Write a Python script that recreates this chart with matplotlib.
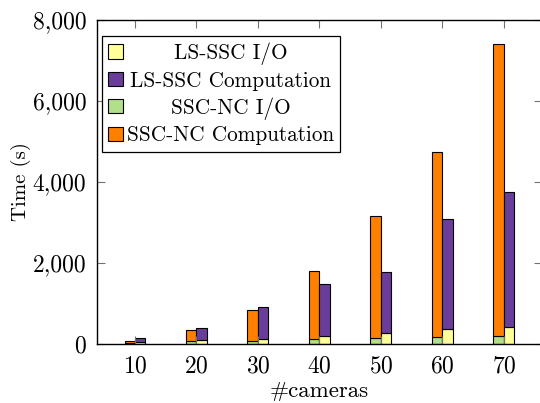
import matplotlib
matplotlib.use("Agg")
import matplotlib.pyplot as plt
from matplotlib.patches import Patch
from matplotlib.ticker import FuncFormatter
import numpy as np

plt.rcParams['font.family'] = ['cmr10', 'DejaVu Serif']
plt.rcParams['axes.formatter.use_mathtext'] = True

# -----------------------------
# Data
# -----------------------------
cameras = [10, 20, 30, 40, 50, 60, 70]
ssc_nc_io = [25, 81, 81, 131, 140, 165, 197]
ssc_nc_comp = [42, 264, 758, 1677, 3017, 4578, 7196]
ls_ssc_io = [60, 99, 131, 190, 271, 363, 412]
ls_ssc_comp = [80, 296, 774, 1290, 1498, 2713, 3345]

c_ls_io = "#ffff99"
c_ls_comp = "#6a3d9a"
c_nc_io = "#b2df8a"
c_nc_comp = "#ff7f00"

fig = plt.figure(figsize=(5.4, 4.03), dpi=100)
ax = fig.add_axes([97.3 / 540, 59 / 403, 444.2 / 540, 324.3 / 403])

x = np.array(cameras, dtype=float)
w = 1.7
bar_kw = dict(width=w, edgecolor="black", linewidth=0.8)

ax.bar(x - w / 2, ssc_nc_io, color=c_nc_io, **bar_kw)
ax.bar(x - w / 2, ssc_nc_comp, bottom=ssc_nc_io, color=c_nc_comp, **bar_kw)
ax.bar(x + w / 2, ls_ssc_io, color=c_ls_io, **bar_kw)
ax.bar(x + w / 2, ls_ssc_comp, bottom=ls_ssc_io, color=c_ls_comp, **bar_kw)

ax.set_xlim(3.87, 76.13)
ax.set_ylim(0, 8000)
ax.set_xticks(cameras)
ax.set_yticks([0, 2000, 4000, 6000, 8000])
ax.yaxis.set_major_formatter(FuncFormatter(lambda v, p: f"{v:,.0f}"))

ax.tick_params(direction="in", top=True, right=True, length=6, width=0.8,
               color="0.45", labelsize=17, pad=8)
for s in ax.spines.values():
    s.set_linewidth(1.0)
    s.set_color("black")

ax.set_xlabel("#cameras", fontsize=16.5, labelpad=3)
ax.set_ylabel("Time (s)", fontsize=15, labelpad=1)

handles = [
    Patch(facecolor=c_ls_io, edgecolor="black", linewidth=0.8),
    Patch(facecolor=c_ls_comp, edgecolor="black", linewidth=0.8),
    Patch(facecolor=c_nc_io, edgecolor="black", linewidth=0.8),
    Patch(facecolor=c_nc_comp, edgecolor="black", linewidth=0.8),
]
labels = ["LS-SSC I/O", "LS-SSC Computation", "SSC-NC I/O", "SSC-NC Computation"]
leg = ax.legend(handles, labels, loc="upper left", bbox_to_anchor=(0.0106, 0.95),
                borderaxespad=0, fontsize=15.3, fancybox=False, framealpha=1,
                edgecolor="black", handlelength=0.67, handleheight=0.67,
                handletextpad=0.2, labelspacing=0.3, borderpad=0.3)
leg.get_frame().set_linewidth(0.9)

# center the legend texts like pgfplots does
fig.canvas.draw()
texts = leg.get_texts()
widths = [t.get_window_extent().width for t in texts]
maxw = max(widths)
for t, tw in zip(texts, widths):
    t.set_x((maxw - tw) / 2)

fig.savefig("out.png", dpi=100)
